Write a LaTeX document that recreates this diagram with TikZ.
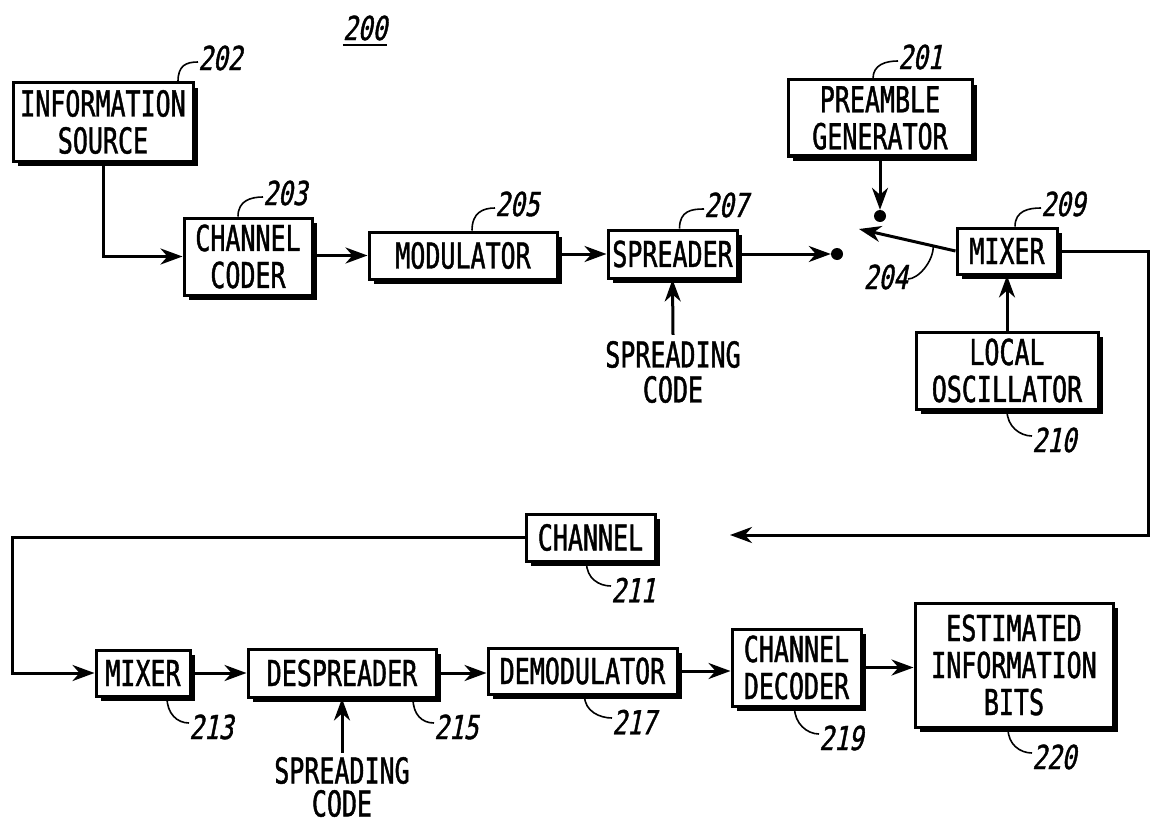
\documentclass[tikz,border=0pt]{standalone}
\usepackage{fontspec}
\setmainfont{DejaVu Sans Mono}[FakeStretch=0.70, FakeBold=1.2]
\newfontfamily\numfont{DejaVu Sans Mono}[FakeStretch=0.74, FakeSlant=0.2, FakeBold=1.2]
\usetikzlibrary{arrows.meta,shadows,calc}
\begin{document}
\begin{tikzpicture}[x=1pt,y=-1pt,
  blk/.style={draw, line width=3pt, fill=white, inner sep=0pt, align=center,
    font=\fontsize{35.7}{37}\selectfont,
    drop shadow={shadow xshift=5pt, shadow yshift=-5pt, fill=black, opacity=1}},
  txt/.style={inner sep=0pt, align=center},
  num/.style={inner sep=0pt, font=\numfont\fontsize{33}{36}\selectfont},
  conn/.style={line width=3pt},
  arr/.style={conn, -{Stealth[length=22pt,width=16pt,inset=7pt]}},
  leader/.style={line width=1.6pt},
  contact/.style={circle, fill=black, inner sep=0pt, minimum size=12pt}]
\useasboundingbox (0,0) rectangle (1151,824);

% blocks
\node[blk, minimum width=180pt, minimum height=78pt] (src) at (103,122) {INFORMATION\\SOURCE};
\node[blk, minimum width=128pt, minimum height=77pt] (coder) at (248,256.5) {CHANNEL\\CODER};
\node[blk, minimum width=188pt, minimum height=47pt] (mod) at (463,255.5) {MODULATOR};
\node[blk, minimum width=129pt, minimum height=48pt] (spr) at (672.5,254) {SPREADER};
\node[blk, minimum width=184pt, minimum height=76pt] (pre) at (880,118) {PREAMBLE\\GENERATOR};
\node[blk, minimum width=100pt, minimum height=46pt] (mix1) at (1007,251) {MIXER};
\node[blk, minimum width=182pt, minimum height=77pt] (lo) at (1007,370.5) {LOCAL\\OSCILLATOR};
\node[blk, minimum width=129pt, minimum height=47pt] (chan) at (590.5,537.5) {CHANNEL};
\node[blk, minimum width=94pt, minimum height=46pt] (mix2) at (143,673) {MIXER};
\node[blk, minimum width=188pt, minimum height=48pt] (desp) at (342,673) {DESPREADER};
\node[blk, minimum width=189pt, minimum height=46pt] (demod) at (582.5,671) {DEMODULATOR};
\node[blk, minimum width=129pt, minimum height=77pt] (dec) at (796.5,667.5) {CHANNEL\\DECODER};
\node[blk, minimum width=198pt, minimum height=124pt] (est) at (1014,665) {ESTIMATED\\INFORMATION\\BITS};

% free texts
\node[txt, font=\fontsize{35.7}{35}\selectfont] (sc1) at (673,372) {SPREADING\\CODE};
\node[txt, font=\fontsize{35.7}{33}\selectfont] (sc2) at (342,787) {SPREADING\\CODE};

% switch contacts and free ends
\node[contact] (c1) at (837,254) {};
\node[contact] (c2) at (880,216) {};
\coordinate (sw) at (859,229);
\coordinate (rc) at (1148,535);
\coordinate (chin) at (730,535);
\coordinate (lc) at (12,673);

% connectors
\draw[arr] (src.south) |- (coder.west);
\draw[arr] (coder.east |- mod.west) -- (mod.west);
\draw[arr] (mod.east |- spr.west) -- (spr.west);
\draw[arr] (spr.east) -- (c1.west);
\draw[arr] (pre.south) -- (c2.north);
\draw[arr] (mix1.west) -- (sw);
\draw[arr] (lo.north) -- (mix1.south);
\draw[arr] (sc1.north) ++(0,-6) -- (spr.south);
\draw[arr] (mix1.east) -| (rc) -- (chin);
\draw[arr] (chan.west) -| (lc) -- (mix2.west);
\draw[arr] (mix2.east) -- (desp.west);
\draw[arr] (desp.east) -- (desp.east -| demod.west);
\draw[arr] (demod.east) -- (demod.east -| dec.west);
\draw[arr] (dec.east) -- (dec.east -| est.west);
\draw[arr] (sc2.north) ++(0,-4) -- (desp.south);

% reference numerals
\node[num] (n200) at (365,28) {200};
\draw[line width=1.8pt] ([yshift=-4pt]n200.south west) -- ([yshift=-4pt]n200.south east);
\node[num, anchor=west] (n202) at (198,58) {202};
\node[num, anchor=west] (n203) at (263,193) {203};
\node[num, anchor=west] (n205) at (495,204) {205};
\node[num, anchor=west] (n207) at (704,205) {207};
\node[num, anchor=west] (n201) at (898,57) {201};
\node[num, anchor=west] (n209) at (1041,204) {209};
\node[num, anchor=east] (n204) at (908,277) {204};
\node[num, anchor=west] (n210) at (1032,440) {210};
\node[num, anchor=west] (n211) at (611,590) {211};
\node[num, anchor=west] (n213) at (189,727) {213};
\node[num, anchor=west] (n215) at (434,727) {215};
\node[num, anchor=west] (n217) at (612,722) {217};
\node[num, anchor=west] (n219) at (819,738) {219};
\node[num, anchor=west] (n220) at (1032,757) {220};

% leaders (upward)
\draw[leader] ([xshift=75pt]src.north) .. controls +(0,-16) and +(-12,0) .. ([yshift=-4pt]n202.west);
\draw[leader] ([xshift=-10pt]coder.north) .. controls +(0,-16) and +(-12,0) .. ([yshift=-4pt]n203.west);
\draw[leader] ([xshift=9pt]mod.north) .. controls +(0,-18) and +(-12,0) .. ([yshift=-4pt]n205.west);
\draw[leader] ([xshift=7pt]spr.north) .. controls +(0,-18) and +(-12,0) .. ([yshift=-4pt]n207.west);
\draw[leader] ([xshift=-7pt]pre.north) .. controls +(0,-14) and +(-12,0) .. ([yshift=-4pt]n201.west);
\draw[leader] ([xshift=8pt]mix1.north) .. controls +(0,-16) and +(-12,0) .. ([yshift=-4pt]n209.west);
% leader for the switch arm
\draw[leader] ($(mix1.west)!0.23!(sw)$) .. controls +(0,16) and +(10,0) .. ([yshift=-2pt]n204.east);
% leaders (downward)
\draw[leader] (lo.south) .. controls +(0,16) and +(-12,0) .. ([yshift=4pt]n210.west);
\draw[leader] ([xshift=-4pt]chan.south) .. controls +(0,16) and +(-12,0) .. ([yshift=4pt]n211.west);
\draw[leader] ([xshift=24pt]mix2.south) .. controls +(0,16) and +(-12,0) .. ([yshift=4pt]n213.west);
\draw[leader] ([xshift=71pt]desp.south) .. controls +(0,16) and +(-12,0) .. ([yshift=4pt]n215.west);
\draw[leader] ([xshift=2pt]demod.south) .. controls +(0,16) and +(-12,0) .. ([yshift=4pt]n217.west);
\draw[leader] ([xshift=-2pt]dec.south) .. controls +(0,16) and +(-12,0) .. ([yshift=4pt]n219.west);
\draw[leader] ([xshift=-6pt]est.south) .. controls +(0,16) and +(-12,0) .. ([yshift=4pt]n220.west);
\end{tikzpicture}
\end{document}
